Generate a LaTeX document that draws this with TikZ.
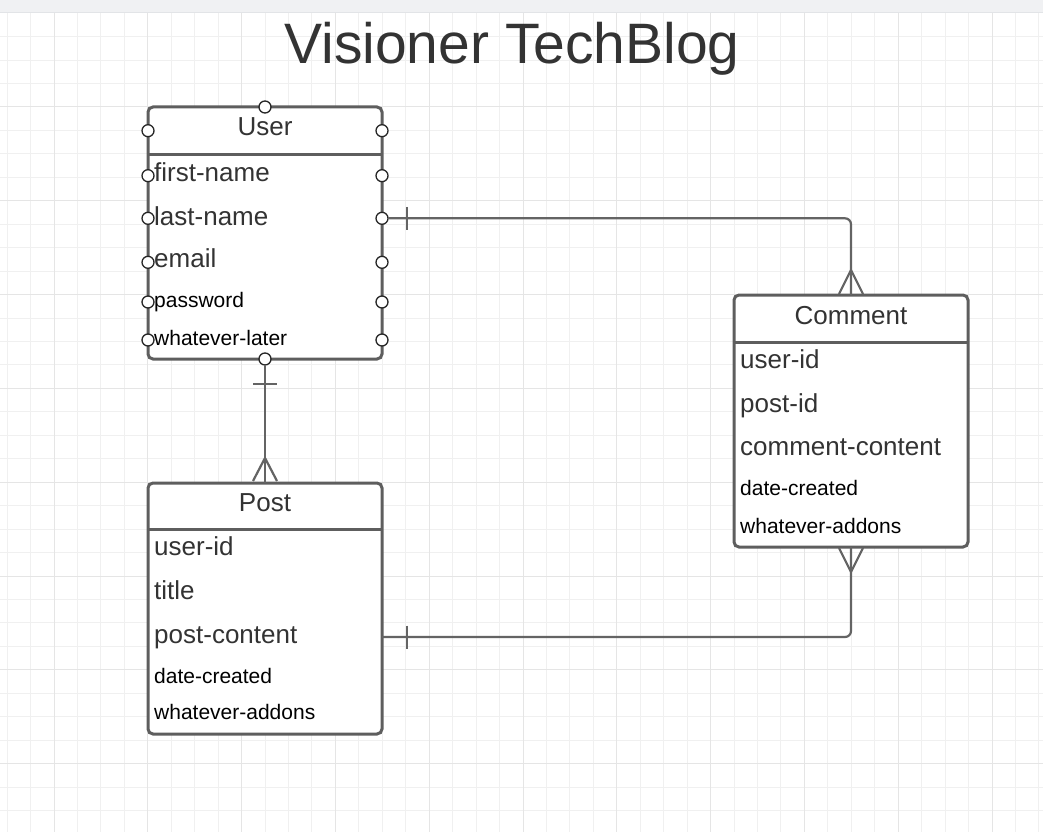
\documentclass[tikz,border=0pt]{standalone}
\usepackage{fontspec}
\setmainfont{Liberation Sans}
\usetikzlibrary{calc}
\definecolor{gridminor}{RGB}{240,240,240}
\definecolor{gridmajor}{RGB}{229,229,229}
\definecolor{barbg}{RGB}{240,241,243}
\definecolor{barline}{RGB}{226,228,231}
\definecolor{boxline}{RGB}{94,94,94}
\definecolor{connline}{RGB}{100,100,100}
\definecolor{txt}{RGB}{51,51,51}
\tikzset{
 erbox/.style={draw=boxline, line width=3pt, fill=white, rounded corners=5pt, minimum width=234pt, minimum height=252pt, inner sep=0pt, outer sep=0pt},
 hdrline/.style={draw=boxline, line width=3pt},
 bigtxt/.style={anchor=base west, inner sep=0pt, text=txt, font=\fontsize{26}{30}\selectfont},
 smalltxt/.style={anchor=base west, inner sep=0pt, text=black, font=\fontsize{21}{25}\selectfont},
 hdrtxt/.style={anchor=base, inner sep=0pt, text=txt, font=\fontsize{26}{30}\selectfont},
 conn/.style={draw=connline, line width=2.2pt},
 port/.style={circle, draw=black!85, fill=white, line width=1.3pt, minimum size=12pt, inner sep=0pt, outer sep=0pt},
 gmin/.style={draw=gridminor, line width=1pt},
 gmaj/.style={draw=gridmajor, line width=1pt},
}
\begin{document}
\begin{tikzpicture}[x=1pt, y=-1pt]
\useasboundingbox (0,0) rectangle (1043,832);
\fill[white] (0,0) rectangle (1043,832);
% grid
\foreach \k in {0,...,44} {\draw[gmin] ({7.1+23.45*\k},13) -- ({7.1+23.45*\k},832);}
\foreach \k in {1,...,34} {\draw[gmin] (0,{13.2+23.45*\k}) -- (1043,{13.2+23.45*\k});}
\foreach \k in {2,6,...,42} {\draw[gmaj] ({7.1+23.45*\k},13) -- ({7.1+23.45*\k},832);}
\foreach \k in {4,8,...,32} {\draw[gmaj] (0,{13.2+23.45*\k}) -- (1043,{13.2+23.45*\k});}
% top bar
\fill[barbg] (0,0) rectangle (1043,13);
\draw[barline, line width=1pt] (0,13) -- (1043,13);
% title
\node[anchor=base, inner sep=0pt, text=txt, font=\fontsize{57}{60}\selectfont] (title) at (512,64) {Visioner TechBlog};
% boxes
\node[erbox] (user) at (265,233) {};
\node[erbox, minimum height=251pt] (post) at (265,608.5) {};
\node[erbox] (comment) at (851,421) {};
\draw[hdrline] ($(user.north west)+(0,47)$) -- ($(user.north east)+(0,47)$);
\draw[hdrline] ($(post.north west)+(0,46.5)$) -- ($(post.north east)+(0,46.5)$);
\draw[hdrline] ($(comment.north west)+(0,47)$) -- ($(comment.north east)+(0,47)$);
% User texts
\node[hdrtxt] (userT) at ($(user.north)+(0,28.5)$) {User};
\node[bigtxt] (u1) at ($(user.north west)+(6,74)$) {first-name};
\node[bigtxt] (u2) at ($(user.north west)+(6,118)$) {last-name};
\node[bigtxt] (u3) at ($(user.north west)+(6,160)$) {email};
\node[smalltxt] (u4) at ($(user.north west)+(6,200.5)$) {password};
\node[smalltxt] (u5) at ($(user.north west)+(6,238.5)$) {whatever-later};
% Post texts
\node[hdrtxt] (postT) at ($(post.north)+(0,28)$) {Post};
\node[bigtxt] (p1) at ($(post.north west)+(6,72.5)$) {user-id};
\node[bigtxt] (p2) at ($(post.north west)+(6,116.5)$) {title};
\node[bigtxt] (p3) at ($(post.north west)+(6,160)$) {post-content};
\node[smalltxt] (p4) at ($(post.north west)+(6,200)$) {date-created};
\node[smalltxt] (p5) at ($(post.north west)+(6,236.5)$) {whatever-addons};
% Comment texts
\node[hdrtxt] (commentT) at ($(comment.north)+(0,29)$) {Comment};
\node[bigtxt] (c1) at ($(comment.north west)+(6,73.5)$) {user-id};
\node[bigtxt] (c2) at ($(comment.north west)+(6,117)$) {post-id};
\node[bigtxt] (c3) at ($(comment.north west)+(6,160)$) {comment-content};
\node[smalltxt] (c4) at ($(comment.north west)+(6,200)$) {date-created};
\node[smalltxt] (c5) at ($(comment.north west)+(6,238)$) {whatever-addons};
% ports on User
\node[port] (uT) at (user.north) {};
\node[port] (uB) at (user.south) {};
\node[port] (uL0) at ($(user.north west)+(0,23.7)$) {};
\node[port] (uL1) at ($(user.north west)+(0,68.7)$) {};
\node[port] (uL2) at ($(user.north west)+(0,111.3)$) {};
\node[port] (uL3) at ($(user.north west)+(0,155.3)$) {};
\node[port] (uL4) at ($(user.north west)+(0,195)$) {};
\node[port] (uL5) at ($(user.north west)+(0,233)$) {};
\node[port] (uR0) at ($(user.north east)+(0,23.7)$) {};
\node[port] (uR1) at ($(user.north east)+(0,68.7)$) {};
\node[port] (uR2) at ($(user.north east)+(0,111.3)$) {};
\node[port] (uR3) at ($(user.north east)+(0,155.3)$) {};
\node[port] (uR4) at ($(user.north east)+(0,195)$) {};
\node[port] (uR5) at ($(user.north east)+(0,233)$) {};
% connector User -> Comment
\draw[conn, rounded corners=6pt] (uR2.east) -| (comment.north);
\draw[conn] ($(uR2.center)+(25,-11.5)$) -- ++(0,23);
\draw[conn] ($(comment.north)+(-12,-1)$) -- ($(comment.north)+(0,-25)$) -- ($(comment.north)+(12,-1)$);
% connector User -> Post
\draw[conn] (uB.south) -- (post.north);
\draw[conn] ($(uB.center)+(-12,25)$) -- ++(24,0);
\draw[conn] ($(post.north)+(-12,-2)$) -- ($(post.north)+(0,-25)$) -- ($(post.north)+(12,-2)$);
% connector Post -> Comment
\coordinate (pc) at ($(post.north east)+(0,154)$);
\draw[conn, rounded corners=6pt] (pc) -| (comment.south);
\draw[conn] ($(pc)+(25,-11.5)$) -- ++(0,23);
\draw[conn] ($(comment.south)+(-12,1)$) -- ($(comment.south)+(0,25)$) -- ($(comment.south)+(12,1)$);
\end{tikzpicture}
\end{document}
